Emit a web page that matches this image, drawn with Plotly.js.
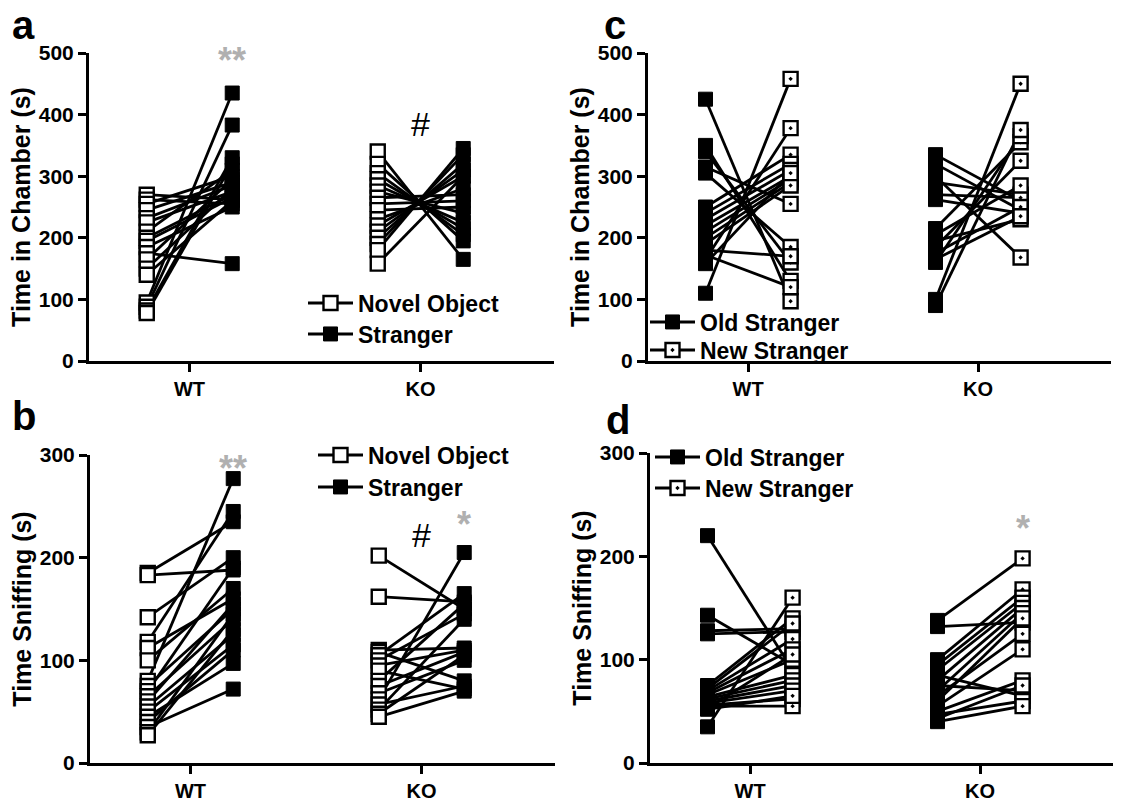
<!DOCTYPE html>
<html><head><meta charset="utf-8">
<script src="https://cdn.plot.ly/plotly-3.0.1.min.js"></script>
<style>html,body{margin:0;padding:0;background:#fff}</style>
</head><body><div id="chart" style="width:1121px;height:802px"></div>
<script>
const categories = ['WT', 'KO'];
const tickValsChamber = [0, 100, 200, 300, 400, 500];
const tickValsSniff = [0, 100, 200, 300];

// Panel a: Time in Chamber (s) — Novel Object vs Stranger
const aWT_novel    = [270, 262, 255, 245, 232, 225, 210, 200, 195, 185, 175, 165, 150, 140, 95, 88, 82, 78];
const aWT_stranger = [262, 255, 300, 290, 285, 275, 310, 270, 265, 250, 158, 295, 280, 260, 435, 383, 330, 320];
const aKO_novel    = [340, 320, 305, 295, 285, 275, 265, 255, 245, 230, 220, 210, 200, 190, 180, 158];
const aKO_stranger = [165, 195, 205, 215, 225, 240, 270, 260, 250, 280, 300, 310, 320, 335, 345, 300];

// Panel b: Time Sniffing (s) — Novel Object vs Stranger
const bWT_novel    = [185, 183, 142, 118, 112, 100, 80, 75, 70, 65, 60, 55, 50, 45, 40, 35, 30, 27];
const bWT_stranger = [235, 188, 200, 245, 160, 170, 277, 150, 190, 140, 155, 125, 115, 97, 110, 72, 145, 130];
const bKO_novel    = [202, 162, 110, 108, 105, 100, 95, 90, 80, 75, 68, 62, 57, 52, 48, 45];
const bKO_stranger = [150, 157, 112, 80, 165, 145, 110, 72, 155, 108, 100, 205, 75, 140, 105, 70];

// Panel c: Time in Chamber (s) — Old Stranger vs New Stranger
const cWT_old = [425, 350, 340, 315, 305, 250, 240, 230, 220, 210, 200, 190, 180, 172, 165, 158, 110];
const cWT_new = [97, 130, 160, 255, 185, 335, 320, 310, 300, 295, 290, 285, 170, 120, 378, 305, 458];
const cKO_old = [335, 320, 300, 290, 270, 262, 215, 205, 195, 185, 175, 165, 160, 100, 90];
const cKO_new = [260, 245, 168, 270, 265, 240, 355, 285, 230, 325, 250, 235, 365, 450, 375];

// Panel d: Time Sniffing (s) — Old Stranger vs New Stranger
const dWT_old = [220, 143, 128, 125, 75, 72, 70, 68, 66, 64, 62, 60, 58, 56, 55, 53, 52, 35];
const dWT_new = [90, 95, 130, 127, 140, 135, 120, 110, 100, 85, 80, 75, 70, 62, 55, 105, 65, 160];
const dKO_old = [138, 132, 100, 95, 90, 85, 80, 75, 70, 65, 60, 55, 50, 47, 43, 40];
const dKO_new = [198, 136, 168, 160, 155, 65, 150, 70, 145, 125, 140, 110, 80, 60, 75, 55];

const OFF = 0.185;
const FONT = 'Liberation Sans, Arial, sans-serif';
const LW = 2.8;
const openMarker = {symbol: 'square', size: 14, color: 'white', line: {color: 'black', width: 2.4}};
const openDotMarker = {symbol: 'square-dot', size: 14, color: 'white', line: {color: 'black', width: 2.4}};
const filledMarker = {symbol: 'square', size: 14, color: 'black', line: {color: 'black', width: 1}};

function lineTrace(ax, ay, groups) {
  const x = [], y = [];
  groups.forEach(g => {
    for (let i = 0; i < g.left.length; i++) {
      x.push(g.c - OFF, g.c + OFF, null);
      y.push(g.left[i], g.right[i], null);
    }
  });
  return {x, y, xaxis: ax, yaxis: ay, mode: 'lines', line: {color: 'black', width: LW},
          showlegend: false, hoverinfo: 'skip'};
}
function markerTrace(ax, ay, name, legend, side, groups, marker) {
  const x = [], y = [];
  groups.forEach(g => {
    const vals = side < 0 ? g.left : g.right;
    vals.forEach(v => { x.push(g.c + side * OFF, null); y.push(v, null); });
  });
  return {x, y, xaxis: ax, yaxis: ay, name, legend, mode: 'lines+markers',
          connectgaps: false, line: {color: 'black', width: 3}, marker};
}

const traces = [];
let gA = [{c: 0, left: aWT_novel, right: aWT_stranger}, {c: 1, left: aKO_novel, right: aKO_stranger}];
traces.push(lineTrace('x', 'y', gA));
traces.push(markerTrace('x', 'y', 'Novel Object', 'legend', -1, gA, openMarker));
traces.push(markerTrace('x', 'y', 'Stranger', 'legend2', 1, gA, filledMarker));
let gB = [{c: 0, left: bWT_novel, right: bWT_stranger}, {c: 1, left: bKO_novel, right: bKO_stranger}];
traces.push(lineTrace('x2', 'y2', gB));
traces.push(markerTrace('x2', 'y2', 'Novel Object', 'legend3', -1, gB, openMarker));
traces.push(markerTrace('x2', 'y2', 'Stranger', 'legend4', 1, gB, filledMarker));
let gC = [{c: 0, left: cWT_old, right: cWT_new}, {c: 1, left: cKO_old, right: cKO_new}];
traces.push(lineTrace('x3', 'y3', gC));
traces.push(markerTrace('x3', 'y3', 'Old Stranger', 'legend5', -1, gC, filledMarker));
traces.push(markerTrace('x3', 'y3', 'New Stranger', 'legend6', 1, gC, openDotMarker));
let gD = [{c: 0, left: dWT_old, right: dWT_new}, {c: 1, left: dKO_old, right: dKO_new}];
traces.push(lineTrace('x4', 'y4', gD));
traces.push(markerTrace('x4', 'y4', 'Old Stranger', 'legend7', -1, gD, filledMarker));
traces.push(markerTrace('x4', 'y4', 'New Stranger', 'legend8', 1, gD, openDotMarker));

const W = 1121, H = 802;
const px = v => v / W, py = v => 1 - v / H;
const XMIN = -0.435, XMAX = 1.576;

function xax(l, r, anchor) {
  return {domain: [px(l), px(r)], range: [XMIN, XMAX], anchor, tickvals: [0, 1], ticktext: categories,
          showline: true, linecolor: 'black', linewidth: 3, ticks: 'outside', ticklen: 8, tickwidth: 3,
          tickcolor: 'black', showgrid: false, zeroline: false, fixedrange: true,
          tickfont: {family: FONT, size: 20, color: 'black', weight: 'bold'}};
}
function yax(top, bottom, max, tv, title, anchor) {
  return {domain: [py(bottom), py(top)], range: [0, max], anchor, tickvals: tv,
          showline: true, linecolor: 'black', linewidth: 3, ticks: 'outside', ticklen: 8, tickwidth: 3,
          tickcolor: 'black', showgrid: false, zeroline: false, fixedrange: true,
          tickfont: {family: FONT, size: 21, color: 'black', weight: 'bold'},
          title: {text: title, standoff: 2, font: {family: FONT, size: 25, color: 'black', weight: 'bold'}}};
}
function legendCfg(x, yMid) {
  return {x: px(x), y: py(yMid), xanchor: 'left', yanchor: 'middle', bgcolor: 'rgba(255,255,255,0)',
          borderwidth: 0, tracegroupgap: 0, itemclick: false, itemwidth: 45,
          font: {family: FONT, size: 23, color: 'black', weight: 'bold'}};
}
const gray = '#b0b0b0';
function ann(text, xref, yref, x, y, size, color, bold) {
  return {text, xref, yref, x, y, showarrow: false, xanchor: 'center', yanchor: 'middle',
          font: {family: FONT, size, color, weight: bold ? 'bold' : 'normal'}};
}
// x-axis pixel span: y-axis position + category spacing 231 px
const span = (l, sp) => [l, l + sp * (XMAX - XMIN)];
const sA = span(89, 231), sB = span(90, 231), sC = span(648, 230), sD = span(650, 230);

const layout = {
  width: W, height: H, margin: {l: 0, r: 0, t: 0, b: 0}, paper_bgcolor: 'white', plot_bgcolor: 'white',
  xaxis: xax(sA[0], sA[1], 'y'), yaxis: yax(53, 361, 500, tickValsChamber, 'Time in Chamber (s)', 'x'),
  xaxis2: xax(sB[0], sB[1], 'y2'), yaxis2: yax(455, 763, 300, tickValsSniff, 'Time Sniffing (s)', 'x2'),
  xaxis3: xax(sC[0], sC[1], 'y3'), yaxis3: yax(53, 361, 500, tickValsChamber, 'Time in Chamber (s)', 'x3'),
  xaxis4: xax(sD[0], sD[1], 'y4'), yaxis4: yax(453, 763, 300, tickValsSniff, 'Time Sniffing (s)', 'x4'),
  legend: legendCfg(303, 303), legend2: legendCfg(303, 334),
  legend3: legendCfg(313, 455), legend4: legendCfg(313, 487),
  legend5: legendCfg(645, 322), legend6: legendCfg(645, 350),
  legend7: legendCfg(650, 457), legend8: legendCfg(650, 488),
  annotations: [
    ann('a', 'paper', 'paper', px(24), py(25), 40, 'black', true),
    ann('b', 'paper', 'paper', px(24), py(416), 40, 'black', true),
    ann('c', 'paper', 'paper', px(615), py(25), 40, 'black', true),
    ann('d', 'paper', 'paper', px(618), py(420), 40, 'black', true),
    ann('**', 'x', 'y', OFF, 488, 36, gray, true),
    ann('#', 'x', 'y', 1, 385, 34, 'black', false),
    ann('**', 'x2', 'y2', OFF, 287, 36, gray, true),
    ann('#', 'x2', 'y2', 1, 222, 34, 'black', false),
    ann('*', 'x2', 'y2', 1 + OFF, 232, 36, gray, true),
    ann('*', 'x4', 'y4', 1 + OFF, 227, 36, gray, true)
  ]
};
Plotly.newPlot('chart', traces, layout, {displayModeBar: false, staticPlot: true});
</script></body></html>
